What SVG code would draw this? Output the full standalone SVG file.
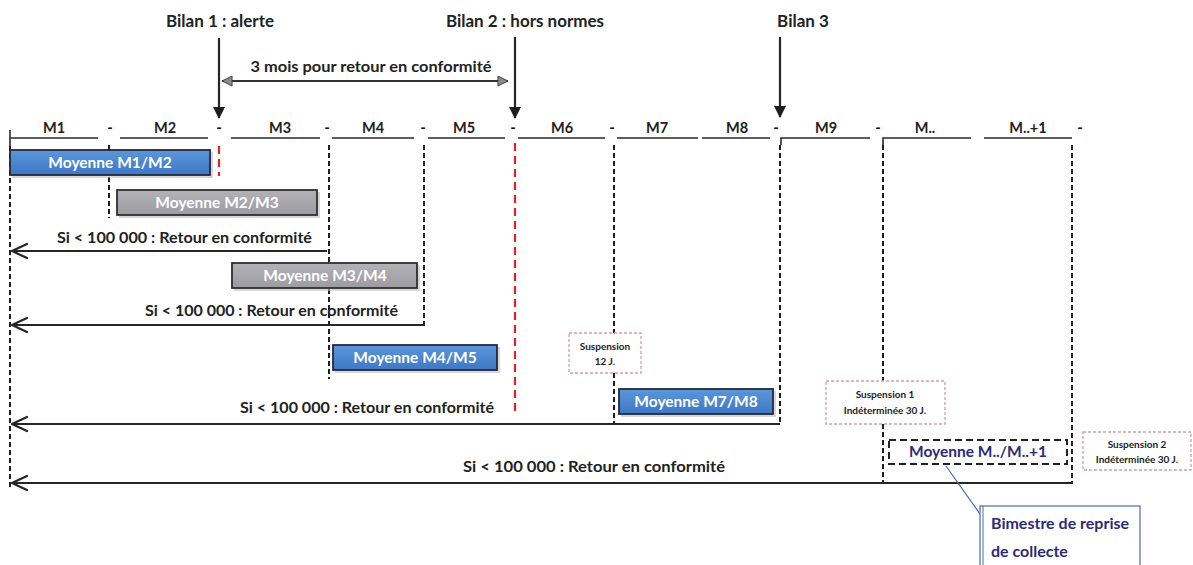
<svg xmlns="http://www.w3.org/2000/svg" width="1193" height="565" viewBox="0 0 1193 565">
<defs>
<style>
.t{font-family:Lato,"Liberation Sans",sans-serif;font-weight:bold;fill:#222}
.bil{font-size:17px}
.mon{font-size:14.5px;text-anchor:middle}
.dash{font-size:15px;text-anchor:middle;fill:#111}
.lbl{font-size:15px}
.box{font-size:15.5px;fill:#fff;text-anchor:middle}
.sus{font-size:10px;text-anchor:middle}
.base{stroke:#2a2a2a;stroke-width:1.6;fill:none}
.vd{stroke:#1e1e1e;stroke-width:2;stroke-dasharray:5 3;fill:none}
.rd{stroke:#e0202a;stroke-width:2.2;stroke-dasharray:8 5;fill:none}
.arr{stroke:#262626;stroke-width:2.2;fill:none}
.head{stroke:#262626;stroke-width:2.2;fill:none;stroke-linecap:round;stroke-linejoin:round}
.blue{fill:url(#gb);stroke:#25283a;stroke-width:1.8}
.grey{fill:url(#gg);stroke:#2f2f33;stroke-width:1.8}
.shd{fill:#bdbdbd;opacity:0.6}
.susb{fill:#fff;stroke:#d79aa4;stroke-width:1.3;stroke-dasharray:3 2}
</style>
<linearGradient id="gb" x1="0" y1="0" x2="0" y2="1">
<stop offset="0" stop-color="#5b97dc"/><stop offset="1" stop-color="#3e77c4"/>
</linearGradient>
<linearGradient id="gg" x1="0" y1="0" x2="0" y2="1">
<stop offset="0" stop-color="#b3b2b7"/><stop offset="1" stop-color="#9c9ba1"/>
</linearGradient>
<marker id="ah" viewBox="0 0 12 12" refX="11" refY="6" markerWidth="12" markerHeight="12" markerUnits="userSpaceOnUse" orient="auto">
<path d="M0,0 L12,6 L0,12 Z" fill="#1e1e1e"/>
</marker>
<marker id="gh" viewBox="0 0 12 12" refX="11" refY="6" markerWidth="12" markerHeight="11" markerUnits="userSpaceOnUse" orient="auto-start-reverse">
<path d="M0,0.5 L11,6 L0,11.5 Z" fill="#8a8a8a" stroke="#3a3a3a" stroke-width="1"/>
</marker>
</defs>
<rect width="1193" height="565" fill="#fff"/>

<g id="bilans">
<text class="t bil" x="220" y="27" text-anchor="middle">Bilan 1 : alerte</text>
<text class="t bil" x="525" y="27" text-anchor="middle">Bilan 2 : hors normes</text>
<text class="t bil" x="803" y="27" text-anchor="middle">Bilan 3</text>
<text class="t lbl" x="371" y="72" text-anchor="middle" font-weight="600" textLength="241" lengthAdjust="spacingAndGlyphs">3 mois pour retour en conformité</text>
</g>

<g id="timeline">
<path class="base" d="M10,130 V146 M10,138 H98 M120,138 H208 M231,138 H320 M332,138 H414 M428,138 H505 M518,138 H605 M617,138 H698 M702,138 H770 M781,145 V138 H870 M883,145 V138 H971 M984,138 H1072"/>
<text class="t mon" x="54" y="133">M1</text>
<text class="t mon" x="165" y="133">M2</text>
<text class="t mon" x="280" y="133">M3</text>
<text class="t mon" x="373" y="133">M4</text>
<text class="t mon" x="464" y="133">M5</text>
<text class="t mon" x="562" y="133">M6</text>
<text class="t mon" x="657" y="133">M7</text>
<text class="t mon" x="737" y="133">M8</text>
<text class="t mon" x="826" y="133">M9</text>
<text class="t mon" x="925" y="133">M..</text>
<text class="t mon" x="1028" y="133">M..+1</text>
<text class="t dash" x="110" y="133">-</text>
<text class="t dash" x="219" y="133">-</text>
<text class="t dash" x="327" y="133">-</text>
<text class="t dash" x="423" y="133">-</text>
<text class="t dash" x="513" y="133">-</text>
<text class="t dash" x="612" y="133">-</text>
<text class="t dash" x="776" y="133">-</text>
<text class="t dash" x="878" y="133">-</text>
<text class="t dash" x="1080" y="133">-</text>
</g>

<g id="connectors">
<line class="arr" x1="219" y1="38" x2="219" y2="118" marker-end="url(#ah)"/>
<line class="arr" x1="515" y1="37" x2="515" y2="118" marker-end="url(#ah)"/>
<line class="arr" x1="780" y1="37" x2="780" y2="117" marker-end="url(#ah)"/>
<line stroke="#333" stroke-width="2" x1="222" y1="81" x2="508" y2="81" marker-start="url(#gh)" marker-end="url(#gh)"/>

<path class="vd" d="M10,146 V490"/>
<path class="vd" d="M109,145 V218"/>
<path class="vd" d="M329,145 V379"/>
<path class="vd" d="M424,145 V326"/>
<path class="vd" d="M614,145 V333 M614,373 V425"/>
<path class="vd" d="M780,145 V425"/>
<path class="vd" d="M883,145 V381 M883,424 V484"/>
<path class="vd" d="M1072,145 V484"/>
<path class="rd" d="M219,146 V176"/>
<path class="rd" d="M515,143 V416"/>

<path class="arr" d="M327,251 H12"/>
<path class="head" d="M27,244 L12,251 L27,258"/>
<path class="arr" d="M423,325 H12"/>
<path class="head" d="M27,318 L12,325 L27,332"/>
<path class="arr" stroke-width="2.6" d="M780,424 H12"/>
<path class="head" d="M27,417 L12,424 L27,431"/>
<path class="arr" stroke-width="2.6" d="M1072,483 H12"/>
<path class="head" d="M27,476 L12,483 L27,490"/>
<path d="M946,466 L980,514" stroke="#4a6aa8" stroke-width="1.2" fill="none"/>
</g>

<g id="labels">
<text class="t lbl" x="57" y="243" textLength="255" lengthAdjust="spacingAndGlyphs">Si &lt; 100 000 : Retour en conformité</text>
<text class="t lbl" x="145" y="316" textLength="253" lengthAdjust="spacingAndGlyphs">Si &lt; 100 000 : Retour en conformité</text>
<text class="t lbl" x="240" y="413" textLength="254" lengthAdjust="spacingAndGlyphs">Si &lt; 100 000 : Retour en conformité</text>
<text class="t lbl" x="463" y="472" textLength="262" lengthAdjust="spacingAndGlyphs">Si &lt; 100 000 : Retour en conformité</text>
</g>

<g id="moy-m1m2">
<rect class="shd" x="12" y="152" width="201" height="26"/>
<rect class="blue" x="10" y="150" width="200" height="25"/>
<text class="t box" x="110" y="168">Moyenne M1/M2</text>
</g>
<g id="moy-m2m3">
<rect class="shd" x="119" y="192" width="201" height="26"/>
<rect class="grey" x="117" y="190" width="200" height="25"/>
<text class="t box" x="217" y="208">Moyenne M2/M3</text>
</g>
<g id="moy-m3m4">
<rect class="shd" x="234" y="265" width="186" height="26"/>
<rect class="grey" x="232" y="263" width="185" height="25"/>
<text class="t box" x="325" y="281">Moyenne M3/M4</text>
</g>
<g id="moy-m4m5">
<rect class="shd" x="335" y="347" width="165" height="26"/>
<rect class="blue" x="333" y="345" width="164" height="25"/>
<text class="t box" x="415" y="363">Moyenne M4/M5</text>
</g>
<g id="moy-m7m8">
<rect class="shd" x="621" y="391" width="155" height="26"/>
<rect class="blue" x="619" y="389" width="154" height="25"/>
<text class="t box" x="696" y="407">Moyenne M7/M8</text>
</g>
<g id="moy-mm1">
<rect x="889" y="440" width="178" height="24" fill="#fff" stroke="#222" stroke-width="2" stroke-dasharray="7 4"/>
<text class="t box" x="978" y="457" style="fill:#2d2a78">Moyenne M../M..+1</text>
</g>

<g id="susp-12">
<rect class="susb" x="569" y="333" width="72" height="40"/>
<text class="t sus" x="605" y="350">Suspension</text>
<text class="t sus" x="605" y="365">12 J.</text>
</g>
<g id="susp-1">
<rect class="susb" x="826" y="381" width="119" height="43"/>
<text class="t sus" x="885" y="398">Suspension 1</text>
<text class="t sus" x="885" y="414">Indéterminée 30 J.</text>
</g>
<g id="susp-2">
<rect class="susb" x="1083" y="432" width="108" height="38"/>
<text class="t sus" x="1137" y="448">Suspension 2</text>
<text class="t sus" x="1137" y="463">Indéterminée 30 J.</text>
</g>

<g id="callout">
<rect x="980" y="506" width="160" height="70" fill="#fff" stroke="#4a6aa8" stroke-width="1.2"/>
<line x1="983" y1="506" x2="983" y2="565" stroke="#4a6aa8" stroke-width="1"/>
<text class="t" x="991" y="529" font-size="16" style="fill:#2d2a78">Bimestre de reprise</text>
<text class="t" x="991" y="557" font-size="16" style="fill:#2d2a78">de collecte</text>
</g>
</svg>
